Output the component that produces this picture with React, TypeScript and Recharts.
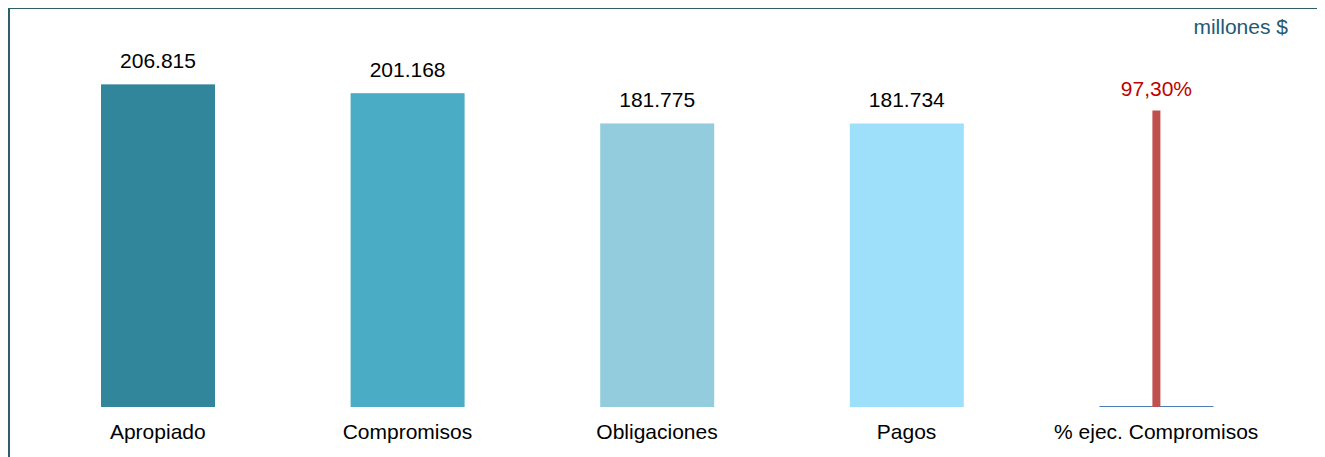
import { ComposedChart, Bar, XAxis, YAxis, Cell, LabelList } from 'recharts';

const categories = ['Apropiado', 'Compromisos', 'Obligaciones', 'Pagos', '% ejec. Compromisos'];
const amounts = [206815, 201168, 181775, 181734, 0];
const execPct = [null, null, null, null, 0.973];
const barColors = ['#31869b', '#4bacc6', '#93cddd', '#9ee0fa', '#4a7ebb'];

const data = categories.map((name, i) => ({ name, amount: amounts[i], pct: execPct[i] }));

const fmtThousands = (v: any) => {
  if (!v) return '';
  return String(v).replace(/\B(?=(\d{3})+(?!\d))/g, '.');
};

const fmtPct = (v: any) => (v == null ? '' : (v * 100).toFixed(2).replace('.', ',') + '%');

// zero-height bar for the last category shows up as a thin baseline stroke
const AmountShape = (props: any) => {
  const { x, y, width, height, fill } = props;
  if (!height) {
    return <line x1={x} x2={x + width} y1={y - 0.5} y2={y - 0.5} stroke="#4a7ebb" strokeWidth={1.2} />;
  }
  return <rect x={x} y={y} width={width} height={height} fill={fill} />;
};

const font = 'Arial, "Liberation Sans", sans-serif';

export default function App() {
  return (
    <div
      style={{
        position: 'relative',
        width: 1316,
        height: 470,
        marginTop: -1,
        border: '2px solid #2b5f6c',
        boxSizing: 'border-box',
        fontFamily: font,
      }}
    >
      <div
        style={{
          position: 'absolute',
          right: 34,
          top: 6,
          fontSize: 21,
          color: '#1f5a73',
        }}
      >
        millones $
      </div>
      <ComposedChart
        width={1311}
        height={449}
        data={data}
        margin={{ top: 8, right: 40, left: 23, bottom: 0 }}
      >
        <XAxis
          dataKey="name"
          xAxisId="main"
          axisLine={false}
          tickLine={false}
          tickSize={0}
          tickMargin={17}
          height={51}
          interval={0}
          tick={{ fontSize: 21, fill: '#000', fontFamily: font }}
        />
        <XAxis dataKey="name" xAxisId="pct" hide />
        <YAxis yAxisId="main" domain={[0, 250000]} hide />
        <YAxis yAxisId="pct" domain={[0, 1.28]} hide />
        <Bar
          dataKey="amount"
          xAxisId="main"
          yAxisId="main"
          barSize={114}
          shape={AmountShape}
          isAnimationActive={false}
        >
          {data.map((d, i) => (
            <Cell key={d.name} fill={barColors[i]} />
          ))}
          <LabelList
            dataKey="amount"
            position="top"
            offset={16}
            formatter={fmtThousands}
            style={{ fontSize: 21, fill: '#000', fontFamily: font }}
          />
        </Bar>
        <Bar
          dataKey="pct"
          xAxisId="pct"
          yAxisId="pct"
          barSize={8}
          fill="#c0504d"
          isAnimationActive={false}
        >
          <LabelList
            dataKey="pct"
            position="top"
            offset={15}
            formatter={fmtPct}
            style={{ fontSize: 21, fill: '#c00000', fontFamily: font }}
          />
        </Bar>
      </ComposedChart>
    </div>
  );
}
